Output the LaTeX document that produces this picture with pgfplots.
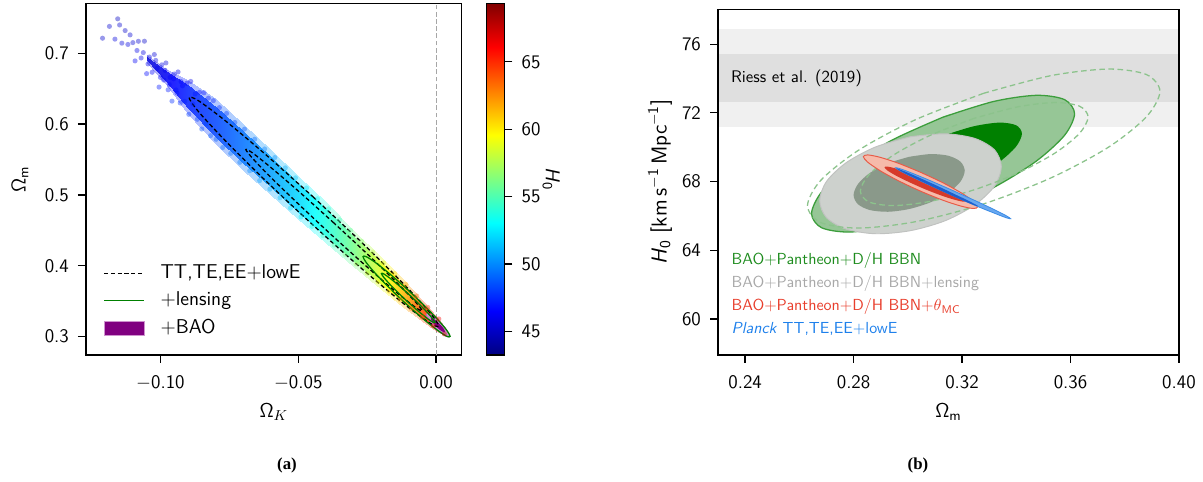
\documentclass[border=0pt]{standalone}
\usepackage{fontspec}
\usepackage{pgfplots}
\pgfplotsset{compat=1.18}
\renewcommand{\familydefault}{\sfdefault}
\newfontfamily\capfont{Liberation Serif}
\definecolor{baodark}{RGB}{128,0,128}
\definecolor{baolight}{RGB}{206,146,206}
\definecolor{baoedge}{RGB}{185,110,185}
\definecolor{lensgreen}{RGB}{0,128,0}
\definecolor{riessA}{RGB}{240,240,240}
\definecolor{riessB}{RGB}{223,223,223}
\definecolor{gOutFill}{RGB}{150,198,150}
\definecolor{gOutEdge}{RGB}{60,158,60}
\definecolor{gIn}{RGB}{0,128,0}
\definecolor{greyOut}{RGB}{205,209,205}
\definecolor{greyOutEdge}{RGB}{192,194,192}
\definecolor{greyIn}{RGB}{138,153,138}
\definecolor{gDash}{RGB}{140,195,140}
\definecolor{redOut}{RGB}{246,186,170}
\definecolor{redEdge}{RGB}{232,90,70}
\definecolor{redIn}{RGB}{214,58,42}
\definecolor{blueOut}{RGB}{105,168,240}
\definecolor{blueEdge}{RGB}{60,140,230}
\definecolor{blueIn}{RGB}{30,95,205}
\definecolor{txtgreen}{RGB}{30,140,30}
\definecolor{txtgrey}{RGB}{168,168,168}
\definecolor{txtred}{RGB}{232,62,44}
\definecolor{txtblue}{RGB}{30,128,235}
\newcommand\tickfont{\fontsize{12}{14}\selectfont}
\newcommand\labfont{\fontsize{12.5}{15}\selectfont}
\pgfplotsset{
  myax/.style={
    scale only axis,
    axis line style={line width=0.8pt},
    tick align=outside,
    tick pos=left,
    major tick length=5pt,
    tick style={line width=0.8pt, black},
    tick label style={font=\tickfont},
    xticklabel shift=4.5pt,
    yticklabel shift=2.2pt,
    label style={font=\labfont},
  },
  linelegend/.style={legend image code/.code={\draw[##1] (0pt,0pt) -- (25pt,0pt);}},
  boxlegend/.style={legend image code/.code={\filldraw[##1] (0pt,-4.5pt) rectangle (25pt,4.5pt);}},
}
\begin{document}
\begin{tikzpicture}
\path[use as bounding box] (0,0) rectangle (751.875pt,301.25pt);
% ---------------- left panel ----------------
\begin{axis}[myax,
  at={(53.75pt,79.375pt)}, anchor=south west,
  width=234.8pt, height=219.8pt,
  xmin=-0.127, xmax=0.0093, ymin=0.274, ymax=0.7706,
  xtick={-0.1,-0.05,0}, xticklabels={$-$0.10,$-$0.05,0.00},
  ytick={0.3,0.4,0.5,0.6,0.7}, yticklabels={0.3,0.4,0.5,0.6,0.7},
  xlabel={Ω$_K$}, ylabel={Ω\textsubscript{m}},
  xlabel style={at={(axis description cs:0.5,-0.162)}, anchor=center},
  ylabel style={at={(axis description cs:-0.176,0.5)}, anchor=center},
  colormap/jet,
  point meta min=43.26, point meta max=69.33,
  colorbar,
  colorbar style={
    at={(parent axis.north east)}, anchor=north west, xshift=7.1pt,
    scale only axis, width=11.1pt, height=219.8pt,
    ytick={45,50,55,60,65}, yticklabels={45,50,55,60,65},
    ytick pos=right, yticklabel pos=right, tick align=outside, major tick length=5pt,
    yticklabel shift=2.2pt,
    tick style={line width=0.8pt, black},
    axis line style={line width=0.8pt},
    tick label style={font=\tickfont},
  },
  legend cell align=left,
  linelegend,
  legend style={draw=none, fill=none, inner sep=0pt,
    at={(axis description cs:0.046,0.2607)}, anchor=north west,
    font=\labfont, row sep=5.2pt,
    nodes={inner sep=0pt, text height=9pt, text depth=3pt},
    /tikz/every odd column/.append style={column sep=9.8pt}},
]
\addplot[gray!70, dash pattern=on 3pt off 1.5pt, line width=0.6pt, forget plot] coordinates {(0,0.274) (0,0.7706)};
% halo of the sample cloud
\addplot[surf, shader=interp, mesh/cols=14, mesh/rows=2, point meta=explicit, opacity=0.3, forget plot] table[meta=h] {
x y h
-0.105 0.6983 45.5
-0.098 0.6779 46.2
-0.090 0.6629 47.3
-0.080 0.6348 48.3
-0.070 0.6007 49.4
-0.060 0.5636 50.6
-0.050 0.5265 52.0
-0.040 0.4894 53.8
-0.030 0.4508 56.0
-0.020 0.4122 58.8
-0.012 0.3807 61.3
-0.005 0.3513 64.0
0.000 0.3290 66.0
0.004 0.3088 67.5
-0.105 0.6863 45.5
-0.098 0.6569 46.2
-0.090 0.6149 47.3
-0.080 0.5718 48.3
-0.070 0.5347 49.4
-0.060 0.5006 50.6
-0.050 0.4665 52.0
-0.040 0.4324 53.8
-0.030 0.3998 56.0
-0.020 0.3672 58.8
-0.012 0.3417 61.3
-0.005 0.3213 64.0
0.000 0.3080 66.0
0.004 0.2998 67.5
};
% core of the sample cloud
\addplot[surf, shader=interp, mesh/cols=14, mesh/rows=2, point meta=explicit, opacity=0.8, forget plot] table[meta=h] {
x y h
-0.105 0.6943 45.5
-0.098 0.6744 46.2
-0.090 0.6549 47.3
-0.080 0.6243 48.3
-0.070 0.5897 49.4
-0.060 0.5531 50.6
-0.050 0.5165 52.0
-0.040 0.4799 53.8
-0.030 0.4423 56.0
-0.020 0.4047 58.8
-0.012 0.3742 61.3
-0.005 0.3463 64.0
0.000 0.3255 66.0
0.004 0.3073 67.5
-0.105 0.6903 45.5
-0.098 0.6604 46.2
-0.090 0.6229 47.3
-0.080 0.5823 48.3
-0.070 0.5457 49.4
-0.060 0.5111 50.6
-0.050 0.4765 52.0
-0.040 0.4419 53.8
-0.030 0.4083 56.0
-0.020 0.3747 58.8
-0.012 0.3482 61.3
-0.005 0.3263 64.0
0.000 0.3115 66.0
0.004 0.3013 67.5
};
% scattered samples
\addplot[scatter, only marks, mark=*, mark size=1.6pt, point meta=explicit,
  scatter/use mapped color={draw=mapped color, fill=mapped color},
  mark options={fill opacity=0.4, draw opacity=0}, forget plot] table[meta=h] {
x y h
-0.1210 0.7213 45.2
-0.1185 0.7380 45.3
-0.1165 0.7200 45.6
-0.1155 0.7487 45.0
-0.1148 0.7400 45.2
-0.1140 0.7143 45.6
-0.1128 0.7321 45.1
-0.1118 0.7125 45.7
-0.1110 0.7260 45.4
-0.1100 0.7151 45.4
-0.1092 0.6893 46.3
-0.1085 0.7040 45.9
-0.1080 0.7170 45.3
-0.1070 0.6934 46.0
-0.1062 0.7010 45.8
-0.1058 0.7171 45.1
-0.1050 0.6713 46.7
-0.1045 0.6850 46.2
-0.1040 0.6947 45.8
-0.1030 0.6732 46.4
-0.1022 0.6983 45.5
-0.1017 0.6900 45.9
-0.1012 0.6788 46.1
-0.1005 0.6523 47.0
-0.1000 0.6660 46.6
-0.0995 0.6837 45.9
-0.0988 0.6622 46.6
-0.0983 0.6760 46.2
-0.0980 0.6864 45.6
-0.0972 0.6485 47.1
-0.0968 0.6560 46.8
-0.0965 0.6660 46.3
-0.0958 0.6325 47.6
-0.0952 0.6640 46.5
-0.0950 0.6707 46.0
-0.0943 0.6482 46.9
-0.0940 0.6440 47.0
-0.0936 0.6737 45.8
-0.0928 0.6299 47.6
-0.0925 0.6600 46.6
-0.0920 0.6540 46.6
-0.0912 0.6322 47.3
-0.0905 0.6577 46.3
-0.0897 0.6138 48.0
-0.0890 0.6603 46.0
-0.0882 0.6285 47.4
-0.0874 0.6426 46.9
-0.0866 0.6068 48.1
-0.0858 0.6449 46.8
-0.0850 0.5931 48.5
-0.0842 0.6443 46.9
-0.0834 0.6004 48.3
-0.0826 0.6366 47.2
-0.0818 0.5837 48.8
-0.0808 0.6331 47.3
-0.0798 0.5786 48.9
-0.0786 0.6233 47.6
-0.0774 0.5670 49.2
-0.0760 0.6151 48.0
-0.0745 0.5587 49.4
-0.0730 0.6024 48.4
-0.0712 0.5460 49.7
-0.0695 0.5929 48.7
-0.0676 0.5342 50.1
-0.0658 0.5787 49.2
-0.0640 0.5203 50.6
-0.0622 0.5649 49.8
-0.0603 0.5082 51.0
-0.0585 0.5528 50.3
-0.0566 0.4960 51.5
-0.0547 0.5382 51.0
-0.0528 0.4815 52.2
-0.0510 0.5241 51.6
-0.0490 0.4689 52.8
-0.0470 0.5098 52.3
-0.0450 0.4557 53.5
-0.0430 0.4946 53.0
-0.0410 0.4425 54.3
-0.0390 0.4803 53.8
-0.0370 0.4292 55.2
-0.0350 0.4651 54.7
-0.0330 0.4160 56.2
-0.0310 0.4499 55.6
-0.0290 0.4027 57.2
-0.0270 0.4346 56.7
-0.0250 0.3895 58.2
-0.0230 0.4194 57.8
-0.0210 0.3773 59.3
-0.0190 0.4041 58.9
-0.0170 0.3640 60.5
-0.0150 0.3889 60.2
-0.0130 0.3518 61.7
-0.0110 0.3737 61.5
-0.0090 0.3395 63.0
-0.0070 0.3574 63.0
-0.0050 0.3273 64.3
-0.0030 0.3412 64.6
-0.0010 0.3151 65.8
0.0010 0.3249 66.3
0.0030 0.3038 67.4
};
% +BAO
\addplot[fill=baolight, draw=baoedge, line width=0.4pt, smooth, forget plot] coordinates {
(0.0007,0.32301) (-0.00145,0.32973) (-0.00302,0.33277) (-0.0036,0.33132) (-0.00302,0.32577) (-0.00145,0.31760) (0.0007,0.30901) (0.00285,0.30229) (0.00442,0.29925) (0.0050,0.3007) (0.00442,0.30625) (0.00285,0.31442) (0.0007,0.32301)} -- cycle;
\addplot[fill=baodark, draw=none, smooth, forget plot] coordinates {
(0.0007,0.32021) (-0.0006,0.32428) (-0.00155,0.32613) (-0.0019,0.32527) (-0.00155,0.32193) (-0.0006,0.31700) (0.0007,0.31181) (0.0020,0.30774) (0.00295,0.30589) (0.0033,0.30675) (0.00295,0.31009) (0.0020,0.31502) (0.0007,0.32021)} -- cycle;
% TT,TE,EE+lowE
\addplot[black, line width=0.8pt, dash pattern=on 2.6pt off 1.6pt, smooth, forget plot] coordinates {
(-0.0443,0.4962) (-0.06164,0.5564) (-0.07633,0.6044) (-0.08615,0.6329) (-0.0896,0.6374) (-0.08615,0.6175) (-0.07633,0.5761) (-0.06164,0.5194) (-0.0443,0.4562) (-0.02696,0.3959) (-0.01227,0.3481) (-0.00245,0.3196) (0.0010,0.3149) (-0.00245,0.3349) (-0.01227,0.3764) (-0.02696,0.4329) (-0.0443,0.4962)};
\addplot[black, line width=0.8pt, dash pattern=on 2.6pt off 1.6pt, smooth, forget plot] coordinates {
(-0.037,0.4602) (-0.04925,0.5031) (-0.05963,0.5378) (-0.06656,0.5593) (-0.069,0.5641) (-0.06656,0.5517) (-0.05963,0.5236) (-0.04925,0.4847) (-0.037,0.4402) (-0.02475,0.3974) (-0.01437,0.3625) (-0.00744,0.3412) (-0.005,0.3364) (-0.00744,0.3488) (-0.01437,0.3767) (-0.02475,0.4159) (-0.037,0.4602)};
% +lensing
\addplot[lensgreen, line width=0.8pt, smooth, forget plot] coordinates {
(-0.0107,0.3676) (-0.01675,0.3884) (-0.02187,0.4042) (-0.0253,0.4128) (-0.0265,0.4129) (-0.0253,0.4044) (-0.02187,0.3886) (-0.01675,0.3680) (-0.0107,0.3456) (-0.00465,0.3249) (0.00047,0.3091) (0.0039,0.3004) (0.0051,0.3004) (0.0039,0.3088) (0.00047,0.3247) (-0.00465,0.3453) (-0.0107,0.3676)};
\addplot[lensgreen, line width=0.8pt, smooth, forget plot] coordinates {
(-0.0101,0.3605) (-0.01381,0.3732) (-0.01696,0.3831) (-0.01906,0.3887) (-0.0198,0.3890) (-0.01906,0.3841) (-0.01696,0.3747) (-0.01381,0.3622) (-0.0101,0.3485) (-0.00639,0.3358) (-0.00324,0.3258) (-0.00114,0.3203) (-0.0004,0.3199) (-0.00114,0.3249) (-0.00324,0.3343) (-0.00639,0.3468) (-0.0101,0.3605)};
\addlegendimage{black, line width=0.8pt, dash pattern=on 2.6pt off 1.6pt}
\addlegendentry{TT,TE,EE+lowE}
\addlegendimage{lensgreen, line width=0.8pt}
\addlegendentry{+lensing}
\addlegendimage{boxlegend, fill=baodark, draw=baolight, line width=0.6pt}
\addlegendentry{+BAO}
\end{axis}
\node[rotate=-90, font=\labfont] at (344.5pt,189.4pt) {\textit{H}\textsubscript{0}};
% ---------------- right panel ----------------
\begin{axis}[myax,
  at={(448.75pt,79.375pt)}, anchor=south west,
  width=288.1pt, height=216.06pt,
  xmin=0.23, xmax=0.40, ymin=57.9, ymax=78.03,
  xtick={0.24,0.28,0.32,0.36,0.40}, xticklabels={0.24,0.28,0.32,0.36,0.40},
  ytick={60,64,68,72,76}, yticklabels={60,64,68,72,76},
  xlabel={Ω\textsubscript{m}},
  ylabel={\textit{H}\textsubscript{0} [km\,s\textsuperscript{$-$1}\,Mpc\textsuperscript{$-$1}]},
  xlabel style={at={(axis description cs:0.5,-0.165)}, anchor=center},
  ylabel style={at={(axis description cs:-0.1258,0.5)}, anchor=center, font=\fontsize{13.5}{16}\selectfont},
  axis on top,
]
\addplot[fill=riessA, draw=none] coordinates {(0.23,71.19) (0.40,71.19) (0.40,76.87) (0.23,76.87)} -- cycle;
\addplot[fill=riessB, draw=none] coordinates {(0.23,72.61) (0.40,72.61) (0.40,75.45) (0.23,75.45)} -- cycle;
% BAO+Pantheon+D/H BBN
\addplot[fill=gOutFill, draw=gOutEdge, line width=0.8pt, smooth] coordinates {
(0.3130,71.75) (0.2944,70.43) (0.2787,68.90) (0.2682,67.39) (0.2645,66.13) (0.2682,65.31) (0.2787,65.06) (0.2944,65.42) (0.3130,66.33) (0.3316,67.65) (0.3473,69.18) (0.3578,70.69) (0.3615,71.95) (0.3578,72.77) (0.3473,73.02) (0.3316,72.66) (0.3130,71.75)} -- cycle;
\addplot[fill=gIn, draw=none, smooth] coordinates {
(0.3130,70.67) (0.3019,69.88) (0.2924,68.96) (0.2861,68.05) (0.2839,67.29) (0.2861,66.80) (0.2924,66.65) (0.3019,66.87) (0.3130,67.41) (0.3241,68.20) (0.3336,69.12) (0.3399,70.03) (0.3421,70.79) (0.3399,71.28) (0.3336,71.43) (0.3241,71.21) (0.3130,70.67)} -- cycle;
% +lensing
\addplot[fill=greyOut, draw=greyOutEdge, line width=0.6pt, smooth] coordinates {
(0.3010,70.61) (0.2882,70.02) (0.2773,69.10) (0.2700,68.00) (0.2675,66.88) (0.2700,65.90) (0.2773,65.23) (0.2882,64.96) (0.3010,65.14) (0.3138,65.72) (0.3247,66.64) (0.3320,67.74) (0.3345,68.87) (0.3320,69.84) (0.3247,70.51) (0.3138,70.78) (0.3010,70.61)} -- cycle;
\addplot[fill=greyIn, draw=none, smooth] coordinates {
(0.3005,69.44) (0.2927,69.06) (0.2860,68.50) (0.2816,67.85) (0.2800,67.21) (0.2816,66.68) (0.2860,66.34) (0.2927,66.24) (0.3005,66.40) (0.3084,66.79) (0.3150,67.35) (0.3194,67.99) (0.3210,68.63) (0.3194,69.16) (0.3150,69.50) (0.3084,69.60) (0.3005,69.44)} -- cycle;
% dashed green
\addplot[gDash, line width=0.8pt, dash pattern=on 3.5pt off 2.2pt, smooth] coordinates {
(0.3280,73.14) (0.3031,71.62) (0.2820,69.84) (0.2679,68.07) (0.2630,66.59) (0.2679,65.61) (0.2820,65.29) (0.3031,65.67) (0.3280,66.70) (0.3529,68.22) (0.3740,70.00) (0.3880,71.77) (0.3930,73.25) (0.3880,74.23) (0.3740,74.55) (0.3529,74.17) (0.3280,73.14)};
\addplot[gDash, line width=0.8pt, dash pattern=on 3.5pt off 2.2pt, smooth] coordinates {
(0.3245,71.68) (0.3084,70.70) (0.2948,69.55) (0.2857,68.40) (0.2825,67.44) (0.2857,66.81) (0.2948,66.60) (0.3084,66.85) (0.3245,67.52) (0.3406,68.50) (0.3542,69.65) (0.3633,70.80) (0.3665,71.76) (0.3633,72.39) (0.3542,72.60) (0.3406,72.35) (0.3245,71.68)};
% +theta_MC
\addplot[fill=redOut, draw=redEdge, line width=0.6pt, smooth] coordinates {
(0.3047,68.54) (0.2966,69.06) (0.2898,69.41) (0.2852,69.55) (0.2836,69.45) (0.2852,69.13) (0.2898,68.63) (0.2966,68.04) (0.3047,67.44) (0.3128,66.92) (0.3196,66.57) (0.3242,66.43) (0.3258,66.53) (0.3242,66.85) (0.3196,67.35) (0.3128,67.94) (0.3047,68.54)} -- cycle;
\addplot[fill=redIn, draw=none, smooth] coordinates {
(0.3064,68.15) (0.3007,68.50) (0.2958,68.75) (0.2925,68.87) (0.2914,68.83) (0.2925,68.64) (0.2958,68.33) (0.3007,67.95) (0.3064,67.55) (0.3121,67.20) (0.3170,66.95) (0.3203,66.83) (0.3214,66.88) (0.3203,67.06) (0.3170,67.37) (0.3121,67.75) (0.3064,68.15)} -- cycle;
% Planck
\addplot[fill=blueOut, draw=blueEdge, line width=0.5pt, smooth] coordinates {
(0.3167,67.47) (0.3086,68.03) (0.3017,68.48) (0.2971,68.75) (0.2955,68.80) (0.2971,68.63) (0.3017,68.26) (0.3086,67.75) (0.3167,67.17) (0.3248,66.61) (0.3317,66.17) (0.3363,65.89) (0.3379,65.84) (0.3363,66.01) (0.3317,66.38) (0.3248,66.89) (0.3167,67.47)} -- cycle;
\addplot[fill=blueIn, draw=none, smooth] coordinates {
(0.3110,67.74) (0.3053,68.15) (0.3004,68.49) (0.2971,68.70) (0.2960,68.75) (0.2971,68.63) (0.3004,68.36) (0.3053,67.99) (0.3110,67.56) (0.3167,67.15) (0.3216,66.81) (0.3249,66.60) (0.3260,66.56) (0.3249,66.67) (0.3216,66.94) (0.3167,67.31) (0.3110,67.74)} -- cycle;
\node[anchor=west, inner sep=0pt, font=\fontsize{10.5}{12}\selectfont] at (axis cs:0.2347,74.03) {Riess et al. (2019)};
\node[anchor=west, inner sep=0pt, text=txtgreen, font=\fontsize{10}{12}\selectfont] at (axis cs:0.2349,63.40) {BAO+Pantheon+D/H BBN};
\node[anchor=west, inner sep=0pt, text=txtgrey, font=\fontsize{10}{12}\selectfont] at (axis cs:0.2349,62.05) {BAO+Pantheon+D/H BBN+lensing};
\node[anchor=west, inner sep=0pt, text=txtred, font=\fontsize{10}{12}\selectfont] at (axis cs:0.2349,60.70) {BAO+Pantheon+D/H BBN+$\theta$\textsubscript{MC}};
\node[anchor=west, inner sep=0pt, text=txtblue, font=\fontsize{10}{12}\selectfont] at (axis cs:0.2349,59.40) {\textit{Planck} TT,TE,EE+lowE};
\end{axis}
\node[font=\capfont\bfseries\fontsize{10.5}{12}\selectfont] at (179.4pt,10.6pt) {(a)};
\node[font=\capfont\bfseries\fontsize{10.5}{12}\selectfont] at (573.75pt,10.6pt) {(b)};
\end{tikzpicture}
\end{document}
